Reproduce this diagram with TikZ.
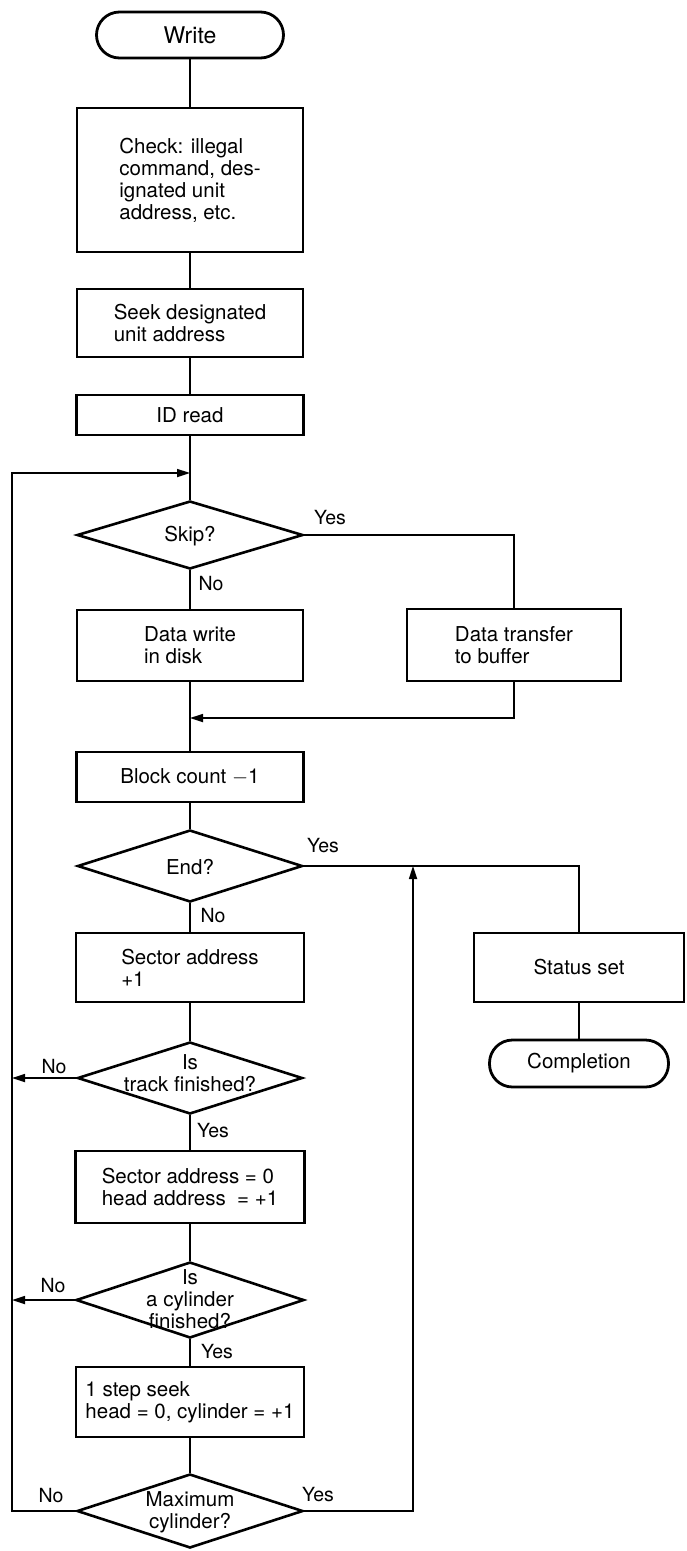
\documentclass[tikz,border=0pt]{standalone}
\usepackage{fontspec}
\setmainfont{TeX Gyre Heros}
\usetikzlibrary{shapes.geometric,arrows.meta}
\newcommand\myfs{\fontsize{20.5}{22}\selectfont}
\begin{document}
\begin{tikzpicture}[x=1pt,y=-1pt,
  box/.style={draw, line width=2.8pt, inner sep=0pt, align=left, font=\myfs},
  term/.style={draw, line width=2.8pt, inner sep=0pt, rounded corners=23pt},
  dia/.style={draw, diamond, line width=2.6pt, inner sep=0pt},
  txt/.style={inner sep=0pt, align=center, font=\myfs},
  lbl/.style={inner sep=0pt, font=\fontsize{19.5}{21}\selectfont},
  conn/.style={line width=1.7pt},
  arr/.style={conn, -{Triangle[length=13pt,width=8pt]}}]
\useasboundingbox (0,0) rectangle (686,1551);

% main column
\node[term, minimum width=187pt, minimum height=46pt, font=\fontsize{23}{25}\selectfont] (write) at (190,35) {Write};
\node[box, minimum width=226pt, minimum height=144pt] (check) at (190,180) {Check: illegal\\command, des-\\ignated unit\\address, etc.};
\node[box, minimum width=226pt, minimum height=68pt] (seek) at (190,323) {Seek designated\\unit address};
\node[box, minimum width=227pt, minimum height=40pt] (idread) at (190,415) {ID read};
\coordinate (j1) at (190,473);
\node[dia, minimum width=226pt, minimum height=68pt] (skip) at (190,535) {};
\node[txt] (skipt) at (190,536) {Skip?};
\node[box, minimum width=226pt, minimum height=71pt] (dwrite) at (190,645.5) {Data write\\in disk};
\node[box, minimum width=214pt, minimum height=72pt] (dtrans) at (514,645) {Data transfer\\to buffer};
\coordinate (j2) at (190,718);
\node[box, minimum width=227pt, minimum height=50pt] (block) at (190,777) {Block count $-$1};
\node[dia, minimum width=225pt, minimum height=72pt] (end) at (190,866) {};
\node[txt] (endt) at (190,867) {End?};
\node[box, minimum width=228pt, minimum height=69pt] (sec1) at (190,967.5) {Sector address\\+1};
\node[box, minimum width=210pt, minimum height=69pt] (status) at (579,967.5) {Status set};
\node[term, minimum width=179pt, minimum height=47pt, font=\myfs] (compl) at (579,1063.5) {Completion};
\node[dia, minimum width=225pt, minimum height=72pt] (track) at (190,1078) {};
\node[txt] (trackt) at (190,1073) {Is\\track finished?};
\node[box, minimum width=229pt, minimum height=72pt] (sec0) at (190,1187) {Sector address = 0\\head address\ \ = +1};
\node[dia, minimum width=228pt, minimum height=76pt] (cyl) at (190,1300) {};
\node[txt] (cylt) at (190,1299) {Is\\a cylinder\\finished?};
\node[box, minimum width=228pt, minimum height=70pt] (step) at (190,1402) {1 step seek\\head = 0, cylinder = +1};
\node[dia, minimum width=226pt, minimum height=74pt] (max) at (190,1511) {};
\node[txt] (maxt) at (190,1512) {Maximum\\cylinder?};

% free ends
\coordinate (ltrack) at (12,1078);
\coordinate (lcyl) at (12,1300);
\coordinate (l0) at (12,1511);
\coordinate (l1) at (12,473);
\coordinate (r0) at (413,1511);
\coordinate (r1) at (413,866);

% labels
\node[lbl] (yskip) at (330,518) {Yes};
\node[lbl] (nskip) at (211,584) {No};
\node[lbl] (yend) at (323,846) {Yes};
\node[lbl] (nend) at (213,916) {No};
\node[lbl] (ntrack) at (54,1067) {No};
\node[lbl] (ytrack) at (213,1131) {Yes};
\node[lbl] (ncyl) at (53,1286) {No};
\node[lbl] (ycyl) at (217,1352) {Yes};
\node[lbl] (nmax) at (51,1496) {No};
\node[lbl] (ymax) at (318,1495) {Yes};

% connectors
\draw[conn] (write) -- (check);
\draw[conn] (check) -- (seek);
\draw[conn] (seek) -- (idread);
\draw[conn] (idread) -- (skip);
\draw[conn] (skip.east) -| (dtrans.north);
\draw[conn] (skip) -- (dwrite);
\draw[conn] (dwrite) -- (block);
\draw[arr] (dtrans.south) |- (j2);
\draw[conn] (block) -- (end);
\draw[conn] (end.east) -| (status.north);
\draw[conn] (end) -- (sec1);
\draw[conn] (status) -- (compl);
\draw[conn] (sec1) -- (track);
\draw[arr] (track.west) -- (ltrack);
\draw[conn] (track) -- (sec0);
\draw[conn] (sec0) -- (cyl);
\draw[arr] (cyl.west) -- (lcyl);
\draw[conn] (cyl) -- (step);
\draw[conn] (step) -- (max);
\draw[arr] (max.west) -- (l0) -- (l1) -- (j1);
\draw[arr] (max.east) -- (r0) -- (r1);
\end{tikzpicture}
\end{document}
